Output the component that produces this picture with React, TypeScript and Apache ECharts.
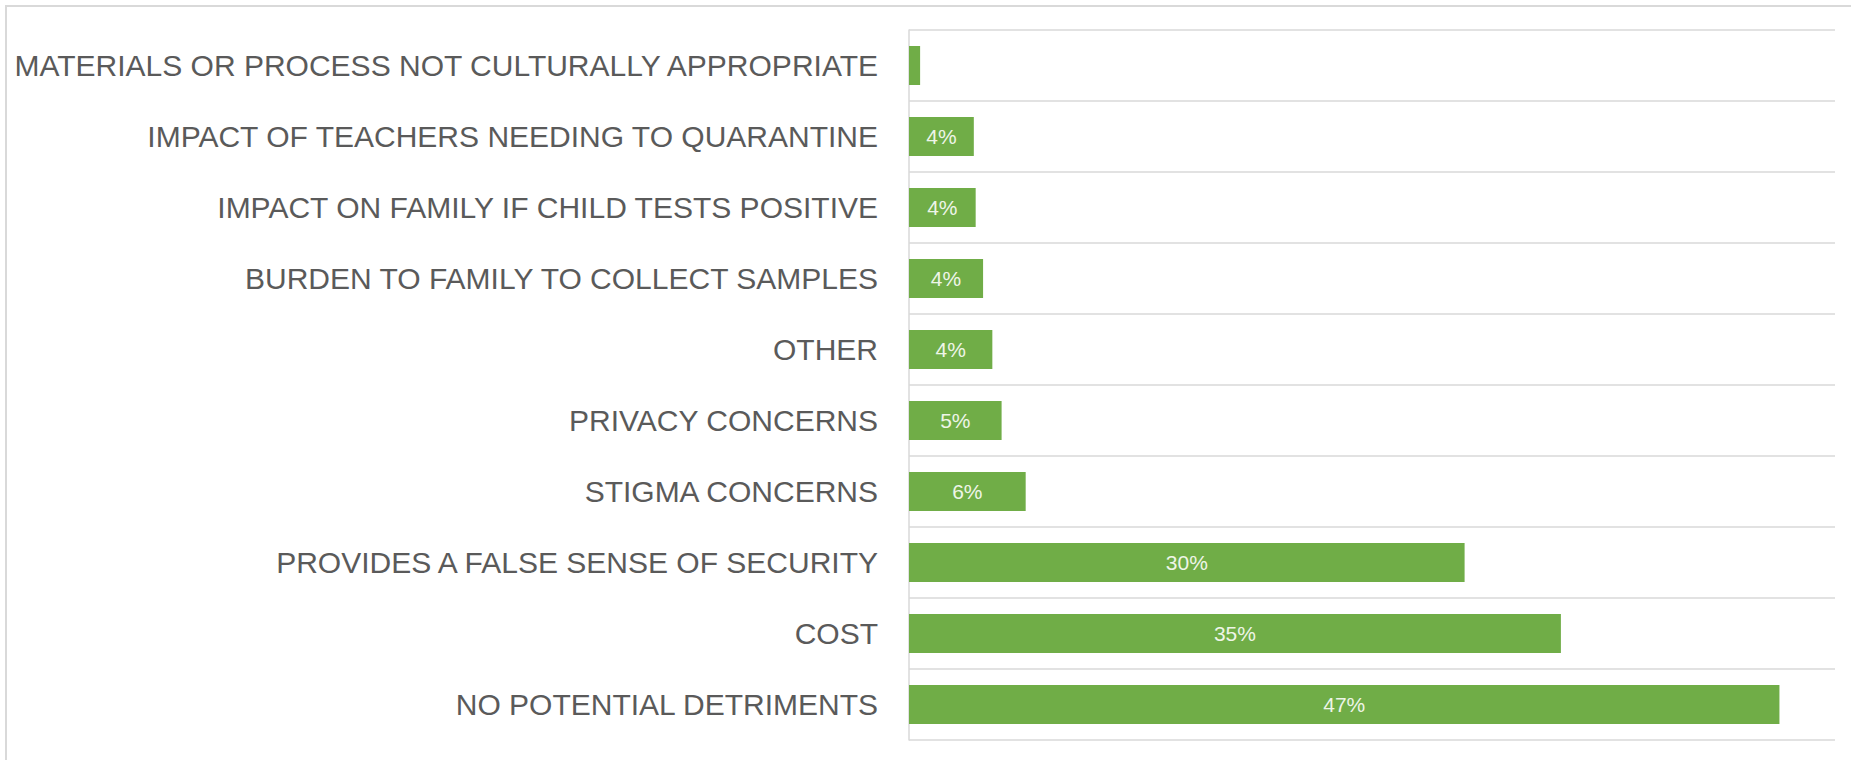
import React, { useEffect, useRef } from "react";
import * as echarts from "echarts";

const categories: string[] = [
  "MATERIALS OR PROCESS NOT CULTURALLY APPROPRIATE",
  "IMPACT OF TEACHERS NEEDING TO QUARANTINE",
  "IMPACT ON FAMILY IF CHILD TESTS POSITIVE",
  "BURDEN TO FAMILY TO COLLECT SAMPLES",
  "OTHER",
  "PRIVACY CONCERNS",
  "STIGMA CONCERNS",
  "PROVIDES A FALSE SENSE OF SECURITY",
  "COST",
  "NO POTENTIAL DETRIMENTS",
];

const values: number[] = [0.6, 3.5, 3.6, 4.0, 4.5, 5.0, 6.3, 30.0, 35.2, 47.0];

const valueLabels: string[] = ["", "4%", "4%", "4%", "4%", "5%", "6%", "30%", "35%", "47%"];

const axisMin = 0;
const axisMax = 50;

export default function App() {
  const ref = useRef<HTMLDivElement>(null);

  useEffect(() => {
    document.body.style.margin = "0";
    if (!ref.current) return;
    const chart = echarts.init(ref.current, null, { renderer: "svg" });
    chart.setOption({
      animation: false,
      backgroundColor: "#ffffff",
      grid: { left: 909, right: 16, top: 30, bottom: 20, containLabel: false },
      xAxis: {
        type: "value",
        min: axisMin,
        max: axisMax,
        axisLine: { show: false },
        axisTick: { show: false },
        axisLabel: { show: false },
        splitLine: { show: false },
      },
      yAxis: {
        type: "category",
        inverse: true,
        data: categories,
        axisLine: { show: true, lineStyle: { color: "#d9d9d9", width: 1.5 } },
        axisTick: { show: false },
        axisLabel: {
          margin: 31,
          color: "#5a5a5a",
          fontFamily: "Liberation Sans",
          fontSize: 30,
        },
        splitLine: { show: true, lineStyle: { color: "#d9d9d9", width: 1.5 } },
      },
      series: [
        {
          type: "bar",
          data: values,
          barCategoryGap: "45%",
          itemStyle: { color: "#70ad47" },
          label: {
            show: true,
            position: "inside",
            color: "#eef5e8",
            fontFamily: "Liberation Sans",
            fontSize: 21,
            formatter: (p: any) => valueLabels[p.dataIndex],
          },
        },
      ],
      graphic: [
        {
          type: "polyline",
          shape: { points: [[6, 760], [6, 6], [1851, 6]] },
          style: { stroke: "#d9d9d9", lineWidth: 2, fill: "none" },
          silent: true,
        },
      ],
    });
    return () => chart.dispose();
  }, []);

  return <div ref={ref} style={{ width: 1851, height: 760 }} />;
}
